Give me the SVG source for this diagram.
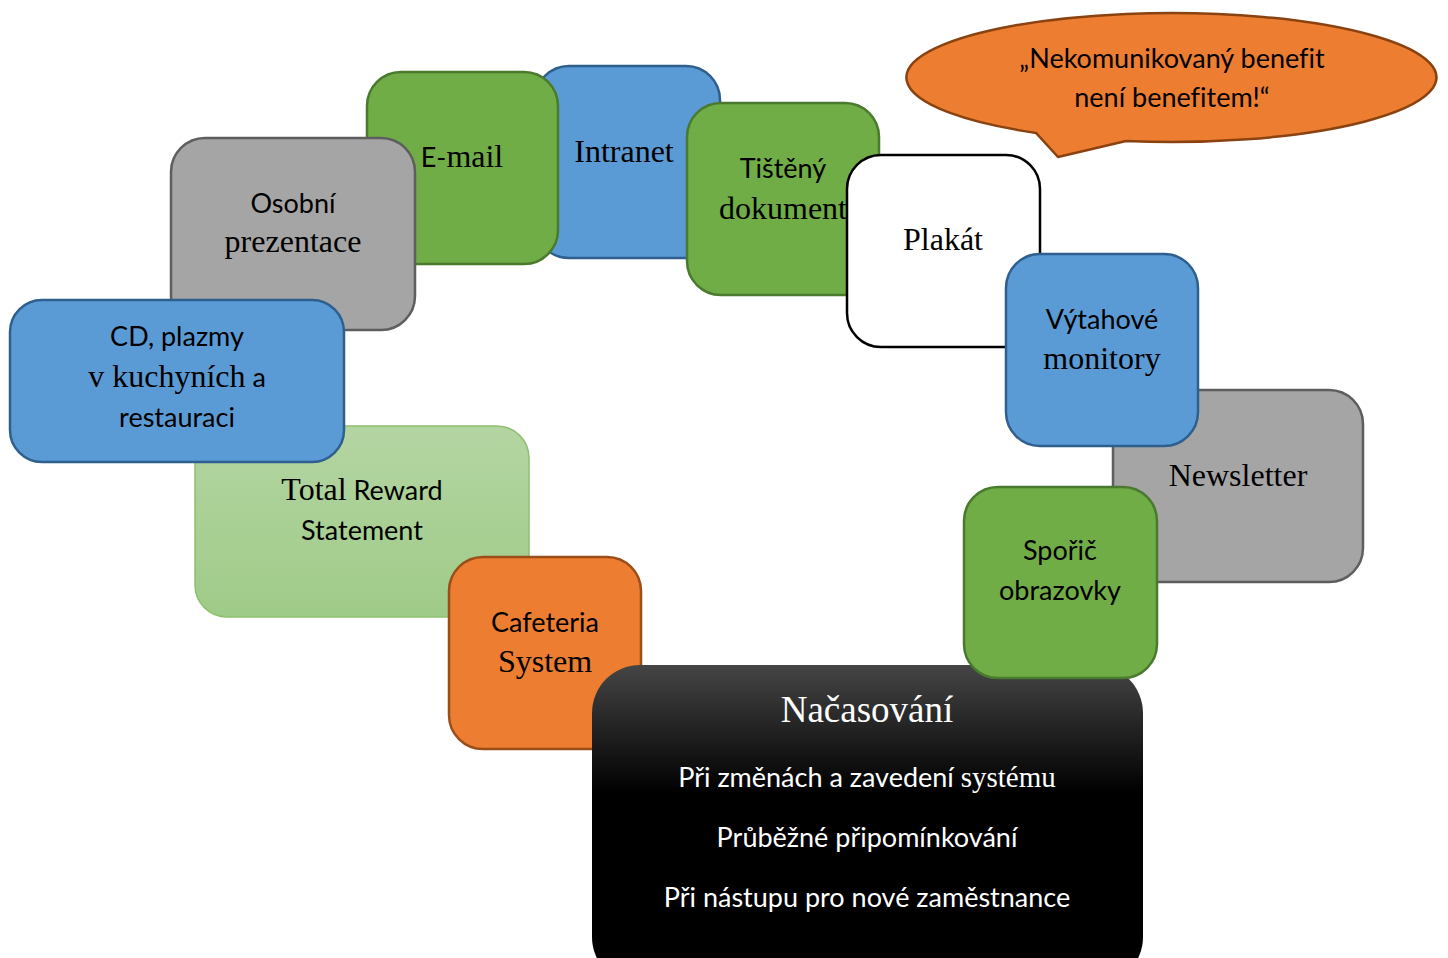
<svg xmlns="http://www.w3.org/2000/svg" width="1448" height="958" viewBox="0 0 1448 958">
<defs>
<linearGradient id="gTR" x1="0" y1="0" x2="0" y2="1"><stop offset="0" stop-color="#B4D5A2"/><stop offset="1" stop-color="#9FCB88"/></linearGradient>
<linearGradient id="gBlk" x1="0" y1="0" x2="0" y2="1"><stop offset="0" stop-color="#454545"/><stop offset="0.4" stop-color="#000"/><stop offset="1" stop-color="#000"/></linearGradient>
<style>
.box{stroke-width:2.5}
.gray{fill:#A5A5A5;stroke:#5E5E5E}
.green{fill:#70AD47;stroke:#4A7A2E}
.blue{fill:#5B9BD5;stroke:#2F5F8E}
.white{fill:#FFFFFF;stroke:#000}
.orange{fill:#ED7D31;stroke:#9C4E1A}
.t{font-size:27px;fill:#000;text-anchor:middle;font-family:Lato,"Liberation Sans",sans-serif;font-variant-ligatures:none}
.s{font-family:"Liberation Serif",serif;font-size:32px}
.w{fill:#fff}
</style>
</defs>
<g id="intranet"><rect class="box blue" x="535" y="66" width="185" height="192" rx="34"/><text class="t s" x="624" y="162">Intranet</text></g>
<g id="email"><rect class="box green" x="367" y="72" width="191" height="192" rx="34"/><text class="t" x="462" y="167">E-<tspan class="s">mail</tspan></text></g>
<g id="osobni"><rect class="box gray" x="171" y="138" width="244" height="192" rx="34"/><text class="t" x="293" y="213">Osobní</text><text class="t s" x="293" y="252">prezentace</text></g>
<g id="total"><rect x="195" y="426" width="334" height="191" rx="32" fill="url(#gTR)" stroke="#8DC06F" stroke-width="1.5"/><text class="t" x="362" y="500"><tspan class="s">Total</tspan> Reward</text><text class="t" x="362" y="540">Statement</text></g>
<g id="cd"><rect class="box blue" x="10" y="300" width="334" height="162" rx="32"/><text class="t" x="177" y="346">CD, plazmy</text><text class="t" x="177" y="387"><tspan class="s">v kuchyních</tspan> a</text><text class="t" x="177" y="427">restauraci</text></g>
<g id="cafeteria"><rect class="box orange" x="449" y="557" width="192" height="192" rx="34"/><text class="t" x="545" y="632">Cafeteria</text><text class="t s" x="545" y="672">System</text></g>
<g id="nacasovani"><rect x="592" y="665" width="551" height="320" rx="48" fill="url(#gBlk)"/><text class="t s w" x="867" y="722" style="font-size:37px">Načasování</text><text class="t w" x="867" y="787">Při změnách a zavedení <tspan class="s" style="font-size:29px">systému</tspan></text><text class="t w" x="867" y="847">Průběžné připomínkování</text><text class="t w" x="867" y="907">Při nástupu pro nové zaměstnance</text></g>
<g id="tisteny"><rect class="box green" x="687" y="103" width="192" height="192" rx="34"/><text class="t" x="783" y="178">Tištěný</text><text class="t s" x="783" y="219">dokument</text></g>
<g id="plakat"><rect class="box white" x="847" y="155" width="193" height="192" rx="34"/><text class="t s" x="943" y="250">Plakát</text></g>
<g id="newsletter"><rect class="box gray" x="1113" y="390" width="250" height="192" rx="34"/><text class="t s" x="1238" y="486">Newsletter</text></g>
<g id="vytahove"><rect class="box blue" x="1006" y="254" width="192" height="192" rx="34"/><text class="t" x="1102" y="329">Výtahové</text><text class="t s" x="1102" y="369">monitory</text></g>
<g id="sporic"><rect class="box green" x="964" y="487" width="193" height="191" rx="34"/><text class="t" x="1060" y="560">Spořič</text><text class="t" x="1060" y="600">obrazovky</text></g>
<g id="bubble"><path d="M1036,132.9 A265,64.5 0 1 1 1126,141 L1058,157 Z" fill="#ED7D31" stroke="#8A4210" stroke-width="2.5" stroke-linejoin="round"/><text class="t" x="1172" y="68">„Nekomunikovaný benefit</text><text class="t" x="1172" y="107">není benefitem!“</text></g>
<g id="connectors"></g>
</svg>
